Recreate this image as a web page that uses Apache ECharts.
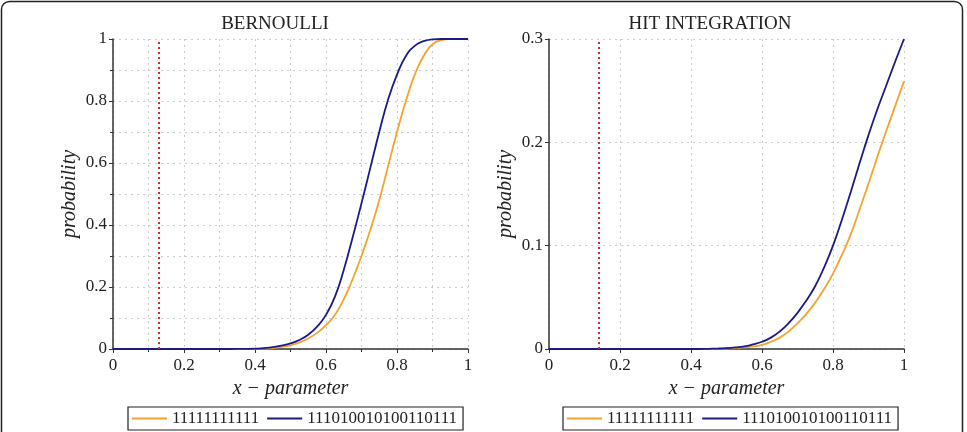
<!DOCTYPE html>
<html>
<head>
<meta charset="utf-8">
<script src="https://cdn.jsdelivr.net/npm/echarts@6/dist/echarts.min.js"></script>
<style>
  html, body { margin: 0; padding: 0; background: #fff; }
  #chart { width: 967px; height: 432px; }
</style>
</head>
<body>
<div id="chart"></div>
<script>
// x - parameter sample points
const xs = [0, 0.1, 0.2, 0.3, 0.35, 0.4, 0.425, 0.45, 0.475, 0.5, 0.525, 0.55, 0.575, 0.6, 0.625,
  0.65, 0.675, 0.7, 0.725, 0.75, 0.775, 0.8, 0.825, 0.85, 0.875, 0.9, 0.925, 0.95, 0.975, 1];

const seriesNames = ['11111111111', '111010010100110111'];

// BERNOULLI
const bernoulliOnes = [0, 0, 0, 0, 0, 0.0005, 0.001, 0.003, 0.007, 0.012, 0.021, 0.034, 0.052, 0.077, 0.11,
  0.16, 0.225, 0.30, 0.385, 0.48, 0.59, 0.70, 0.80, 0.885, 0.945, 0.983, 0.996, 1, 1, 1];
const bernoulliMixed = [0, 0, 0, 0, 0.0002, 0.001, 0.003, 0.006, 0.011, 0.018, 0.029, 0.046, 0.072, 0.11, 0.168,
  0.255, 0.36, 0.47, 0.585, 0.70, 0.805, 0.885, 0.945, 0.978, 0.993, 0.999, 1, 1, 1, 1];

// HIT INTEGRATION
const hitOnes = [0, 0, 0, 0, 0, 0, 0, 0.0001, 0.0002, 0.0005, 0.0009, 0.0015, 0.0025, 0.004, 0.007,
  0.011, 0.017, 0.025, 0.034, 0.045, 0.058, 0.073, 0.091, 0.111, 0.135, 0.16, 0.186, 0.211, 0.235, 0.259];
const hitMixed = [0, 0, 0, 0, 0, 0, 0, 0.0002, 0.0004, 0.0008, 0.0015, 0.0025, 0.0045, 0.007, 0.011,
  0.017, 0.025, 0.035, 0.047, 0.061, 0.079, 0.10, 0.125, 0.152, 0.18, 0.207, 0.232, 0.255, 0.278, 0.30];

// red dotted marker positions
const bernoulliMarker = 0.13;
const hitMarker = 0.142;

const pairs = ys => xs.map((x, i) => [x, ys[i]]);

const serif = 'Liberation Serif, DejaVu Serif, serif';
const orange = '#f4a32e';
const navy = '#1c1a86';
const gridDots = { color: '#cccccc', type: [2, 4], width: 1 };

const xAxisBase = (gridIndex, withMinor) => ({
  type: 'value', gridIndex, min: 0, max: 1, interval: 0.2,
  name: 'x − parameter', nameLocation: 'middle', nameGap: 29,
  nameTextStyle: { fontFamily: serif, fontStyle: 'italic', fontSize: 20, color: '#222' },
  axisLine: { show: true, lineStyle: { color: '#333', width: 1.5 } },
  axisTick: { show: true, length: 4, lineStyle: { color: '#333' } },
  minorTick: { show: withMinor, splitNumber: 2, length: 3, lineStyle: { color: '#333' } },
  axisLabel: { fontFamily: serif, fontSize: 17, color: '#222', margin: 8 },
  splitLine: { show: true, lineStyle: gridDots },
  minorSplitLine: { show: withMinor, lineStyle: gridDots }
});

const yAxisBase = (gridIndex, max, interval, withMinor) => ({
  type: 'value', gridIndex, min: 0, max, interval,
  name: 'probability', nameLocation: 'middle', nameGap: 33,
  nameTextStyle: { fontFamily: serif, fontStyle: 'italic', fontSize: 20, color: '#222' },
  axisLine: { show: true, lineStyle: { color: '#333', width: 1.5 } },
  axisTick: { show: true, length: 4, lineStyle: { color: '#333' } },
  minorTick: { show: withMinor, splitNumber: 2, length: 3, lineStyle: { color: '#333' } },
  axisLabel: { fontFamily: serif, fontSize: 17, color: '#222', margin: 6 },
  splitLine: { show: true, lineStyle: gridDots },
  minorSplitLine: { show: withMinor, lineStyle: gridDots }
});

const marker = x => ({
  silent: true, symbol: 'none', label: { show: false },
  lineStyle: { color: '#d9262a', type: [2, 3], width: 2 },
  data: [{ xAxis: x }]
});

const lineSeries = (name, color, data, idx, mark) => ({
  name, type: 'line', xAxisIndex: idx, yAxisIndex: idx,
  data, showSymbol: false, symbol: 'none', smooth: 0.5,
  lineStyle: { color, width: 1.8 }, itemStyle: { color },
  markLine: mark, z: 3
});

const legendBase = left => ({
  data: seriesNames, left, top: 407, orient: 'horizontal',
  icon: 'rect', itemWidth: 35, itemHeight: 2, itemGap: 8,
  borderColor: '#222', borderWidth: 1.2, borderRadius: 0, padding: [3, 6, 3, 4],
  textStyle: { fontFamily: serif, fontSize: 17, color: '#222' },
  selectedMode: false
});

const chart = echarts.init(document.getElementById('chart'), null, { renderer: 'canvas' });

chart.setOption({
  animation: false,
  backgroundColor: '#fff',
  title: [
    { text: 'BERNOULLI', left: 270, top: 10, textAlign: 'center',
      textStyle: { fontFamily: serif, fontWeight: 'normal', fontSize: 19, color: '#222' } },
    { text: 'HIT INTEGRATION', left: 705, top: 10, textAlign: 'center',
      textStyle: { fontFamily: serif, fontWeight: 'normal', fontSize: 19, color: '#222' } }
  ],
  legend: [legendBase(128), legendBase(563)],
  grid: [
    { left: 113, top: 39, width: 355, height: 310 },
    { left: 549, top: 39, width: 355, height: 310 }
  ],
  xAxis: [xAxisBase(0, true), xAxisBase(1, false)],
  yAxis: [yAxisBase(0, 1, 0.2, true), yAxisBase(1, 0.3, 0.1, false)],
  series: [
    lineSeries(seriesNames[0], orange, pairs(bernoulliOnes), 0, marker(bernoulliMarker)),
    lineSeries(seriesNames[1], navy, pairs(bernoulliMixed), 0),
    lineSeries(seriesNames[0], orange, pairs(hitOnes), 1, marker(hitMarker)),
    lineSeries(seriesNames[1], navy, pairs(hitMixed), 1)
  ],
  graphic: [
    { type: 'rect', silent: true, z: 100,
      shape: { x: 1.5, y: 1.5, width: 961, height: 445, r: 8 },
      style: { fill: 'none', stroke: '#222', lineWidth: 1.5 } }
  ]
});
</script>
</body>
</html>
